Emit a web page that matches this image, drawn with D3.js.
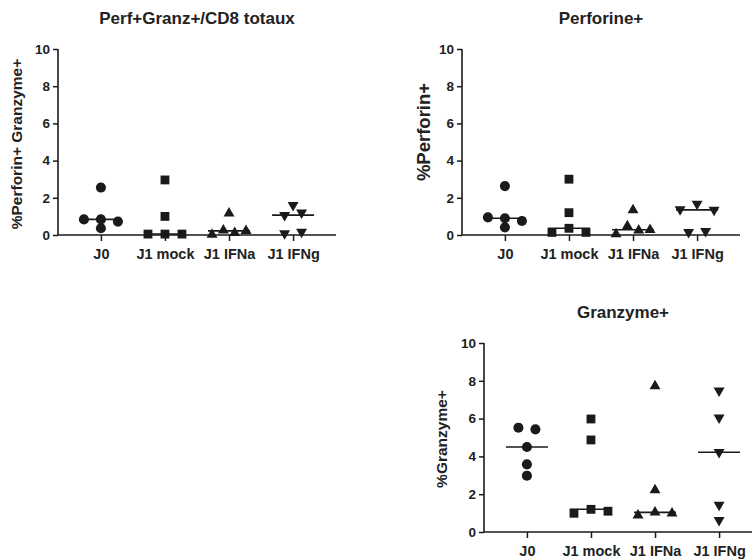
<!DOCTYPE html>
<html>
<head>
<meta charset="utf-8">
<script src="https://cdn.jsdelivr.net/npm/d3@7"></script>
<style>
  html, body { margin: 0; padding: 0; background: #fff; }
  svg { display: block; }
  text { font-family: "Liberation Sans", Arial, sans-serif; font-weight: bold; fill: #222; }
</style>
</head>
<body>
<svg id="chart" width="752" height="559"></svg>
<script>
// ---- data ----
const categories = ["J0", "J1 mock", "J1 IFNa", "J1 IFNg"];
const yTickValues = [0, 2, 4, 6, 8, 10];
const titles = ["Perf+Granz+/CD8 totaux", "Perforine+", "Granzyme+"];
const yLabels = ["%Perforin+ Granzyme+", "%Perforin+", "%Granzyme+"];

// values per category, in sample order
const perfGranzCD8 = [
  [0.84, 2.55, 0.84, 0.72, 0.36],
  [0.05, 2.96, 1.0, 0.05, 0.05],
  [0.02, 0.25, 1.17, 0.12, 0.22],
  [1.6, 1.07, 1.2, 0.08, 0.17]
];
const perforine = [
  [0.95, 2.63, 0.9, 0.75, 0.41],
  [0.14, 3.0, 1.2, 0.36, 0.14],
  [0.05, 0.48, 1.34, 0.25, 0.28],
  [1.38, 1.67, 1.35, 0.15, 0.2]
];
const granzyme = [
  [5.52, 5.43, 4.5, 3.58, 2.98],
  [0.99, 5.98, 4.87, 1.2, 1.1],
  [0.88, 7.72, 2.22, 1.04, 0.99],
  [7.48, 6.05, 4.22, 1.43, 0.63]
];

// ---- layout ----
const panels = [
  { data: perfGranzCD8, title: titles[0], ylabel: yLabels[0], x0: 58, x1: 336, yTop: 49, yBot: 235,
    ylabelX: 22, ylabelY: 144, ylabelSize: 15.5 },
  { data: perforine, title: titles[1], ylabel: yLabels[1], x0: 462, x1: 740, yTop: 49, yBot: 235,
    ylabelX: 430, ylabelY: 132, ylabelSize: 18.5 },
  { data: granzyme, title: titles[2], ylabel: yLabels[2], x0: 484, x1: 762, yTop: 343, yBot: 532,
    ylabelX: 447, ylabelY: 439, ylabelSize: 15.5 }
];

const symbols = [
  { type: d3.symbolCircle, size: 80, rot: 0 },
  { type: d3.symbolSquare, size: 78, rot: 0 },
  { type: d3.symbolTriangle, size: 52, rot: 0 },
  { type: d3.symbolTriangle, size: 52, rot: 180 }
];

const ink = "#1a1a1a";
const svg = d3.select("#chart");

// Prism-like horizontal spreading of replicate points with close values
function spread(values, y) {
  const order = values.map((v, i) => i).sort((a, b) => values[a] - values[b]);
  const rows = [];
  let cur = [order[0]];
  for (let k = 1; k < order.length; k++) {
    if (Math.abs(y(values[order[k - 1]]) - y(values[order[k]])) <= 6) cur.push(order[k]);
    else { rows.push(cur); cur = [order[k]]; }
  }
  rows.push(cur);
  const off = new Array(values.length).fill(0);
  rows.forEach(r => {
    r.sort((a, b) => a - b);
    const n = r.length;
    const step = n > 1 ? Math.min(17, 34 / (n - 1)) : 0;
    r.forEach((i, k) => { off[i] = (k - (n - 1) / 2) * step; });
  });
  return off;
}

panels.forEach(p => {
  const g = svg.append("g");
  const x = d3.scalePoint().domain(categories).range([p.x0, p.x1]).padding(0.67);
  const y = d3.scaleLinear().domain([0, 10]).range([p.yBot, p.yTop]);

  // y axis
  const ya = g.append("g").attr("transform", `translate(${p.x0},0)`)
    .call(d3.axisLeft(y).tickValues(yTickValues).tickSize(5).tickPadding(3).tickFormat(d3.format("d")));
  ya.select(".domain").attr("stroke", ink).attr("stroke-width", 1.6).attr("d", `M0,${p.yTop}V${p.yBot}`);
  ya.selectAll(".tick line").attr("stroke", ink).attr("stroke-width", 1.5);
  ya.selectAll(".tick text").style("font-size", "13.5px").attr("fill", "#222")
    .style("font-family", '"Liberation Sans", Arial, sans-serif').style("font-weight", "bold");

  // x axis
  const xa = g.append("g").attr("transform", `translate(0,${p.yBot})`)
    .call(d3.axisBottom(x).tickSize(6).tickPadding(5));
  xa.select(".domain").attr("stroke", ink).attr("stroke-width", 1.6).attr("d", `M${p.x0},0H${p.x1}`);
  xa.selectAll(".tick line").attr("stroke", ink).attr("stroke-width", 1.5);
  xa.selectAll(".tick text").style("font-size", "14.5px").attr("fill", "#222")
    .style("font-family", '"Liberation Sans", Arial, sans-serif').style("font-weight", "bold")
    .attr("dy", "0.9em");

  // title
  g.append("text").attr("x", (p.x0 + p.x1) / 2).attr("y", p.yTop - 25)
    .attr("text-anchor", "middle").style("font-size", "17px").text(p.title);

  // y label
  g.append("text").attr("transform", `translate(${p.ylabelX},${p.ylabelY}) rotate(-90)`)
    .attr("text-anchor", "middle").style("font-size", p.ylabelSize + "px").text(p.ylabel);

  // points and medians
  p.data.forEach((vals, ci) => {
    const cx = x(categories[ci]);
    const offs = spread(vals, y);
    const s = symbols[ci];
    const sym = d3.symbol().type(s.type).size(s.size);
    g.append("g").selectAll("path").data(vals).join("path")
      .attr("d", sym)
      .attr("transform", (v, i) => `translate(${cx + offs[i]},${y(v)}) rotate(${s.rot})`)
      .attr("fill", ink);
    const med = d3.median(vals);
    g.append("line").attr("x1", cx - 21).attr("x2", cx + 21)
      .attr("y1", y(med)).attr("y2", y(med))
      .attr("stroke", ink).attr("stroke-width", 1.6);
  });
});
</script>
</body>
</html>
